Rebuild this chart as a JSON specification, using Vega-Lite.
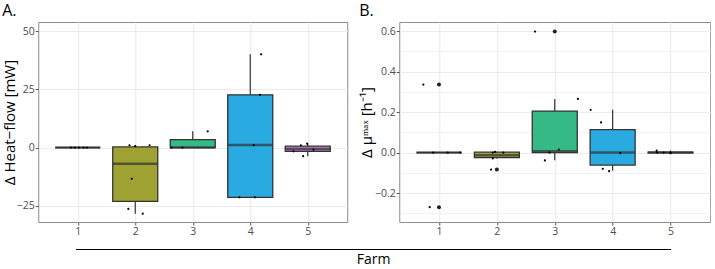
{
  "$schema": "https://vega.github.io/schema/vega-lite/v6.json",
  "padding": {"left": 1, "top": 2, "right": 0, "bottom": 0},
  "background": "white",
  "datasets": {
    "boxA": [
      {"farm": 1, "lower": 0, "q1": 0, "median": 0, "q3": 0, "upper": 0},
      {"farm": 2, "lower": -28.4, "q1": -23.1, "median": -6.9, "q3": 0.3, "upper": 1.0},
      {"farm": 3, "lower": 0, "q1": 0, "median": 0, "q3": 3.4, "upper": 7.0},
      {"farm": 4, "lower": -21.4, "q1": -21.4, "median": 1.1, "q3": 22.7, "upper": 40.1},
      {"farm": 5, "lower": -3.7, "q1": -1.6, "median": -0.6, "q3": 0.6, "upper": 1.7}
    ],
    "ptsA": [
      {"farm": 1, "xj": 0.88, "value": 0}, {"farm": 1, "xj": 0.95, "value": 0}, {"farm": 1, "xj": 1.02, "value": 0}, {"farm": 1, "xj": 1.10, "value": 0}, {"farm": 1, "xj": 1.16, "value": 0},
      {"farm": 2, "xj": 1.90, "value": 1.0}, {"farm": 2, "xj": 2.0, "value": 0.6}, {"farm": 2, "xj": 2.25, "value": 1.0}, {"farm": 2, "xj": 1.94, "value": -13.4}, {"farm": 2, "xj": 1.88, "value": -26.4}, {"farm": 2, "xj": 2.13, "value": -28.4},
      {"farm": 3, "xj": 2.63, "value": 0}, {"farm": 3, "xj": 2.82, "value": 0}, {"farm": 3, "xj": 3.26, "value": 7.0},
      {"farm": 4, "xj": 4.19, "value": 40.1}, {"farm": 4, "xj": 4.17, "value": 22.7}, {"farm": 4, "xj": 4.06, "value": 1.1}, {"farm": 4, "xj": 3.81, "value": -21.4}, {"farm": 4, "xj": 4.08, "value": -21.4},
      {"farm": 5, "xj": 4.88, "value": 0.9}, {"farm": 5, "xj": 4.99, "value": 1.7}, {"farm": 5, "xj": 4.75, "value": -1.6}, {"farm": 5, "xj": 5.10, "value": -0.9}, {"farm": 5, "xj": 4.92, "value": -3.7}
    ],
    "boxB": [
      {"farm": 1, "lower": 0, "q1": 0, "median": 0, "q3": 0, "upper": 0},
      {"farm": 2, "lower": -0.029, "q1": -0.025, "median": -0.013, "q3": 0.002, "upper": 0.003},
      {"farm": 3, "lower": -0.038, "q1": 0.0, "median": 0.006, "q3": 0.205, "upper": 0.265},
      {"farm": 4, "lower": -0.09, "q1": -0.062, "median": 0.0, "q3": 0.113, "upper": 0.211},
      {"farm": 5, "lower": -0.003, "q1": -0.001, "median": 0, "q3": 0.002, "upper": 0.01}
    ],
    "ptsB": [
      {"farm": 1, "xj": 0.73, "value": 0.336}, {"farm": 1, "xj": 0.84, "value": -0.27}, {"farm": 1, "xj": 0.90, "value": 0}, {"farm": 1, "xj": 1.15, "value": 0}, {"farm": 1, "xj": 1.37, "value": 0},
      {"farm": 2, "xj": 1.90, "value": -0.084}, {"farm": 2, "xj": 1.93, "value": 0.0}, {"farm": 2, "xj": 1.97, "value": 0.003}, {"farm": 2, "xj": 2.11, "value": 0.0}, {"farm": 2, "xj": 1.93, "value": -0.029},
      {"farm": 3, "xj": 2.66, "value": 0.598}, {"farm": 3, "xj": 3.40, "value": 0.265}, {"farm": 3, "xj": 3.07, "value": 0.015}, {"farm": 3, "xj": 2.91, "value": 0.0}, {"farm": 3, "xj": 2.83, "value": -0.039},
      {"farm": 4, "xj": 3.62, "value": 0.211}, {"farm": 4, "xj": 3.80, "value": 0.149}, {"farm": 4, "xj": 4.13, "value": -0.003}, {"farm": 4, "xj": 3.83, "value": -0.08}, {"farm": 4, "xj": 3.94, "value": -0.092},
      {"farm": 5, "xj": 4.76, "value": 0.01}, {"farm": 5, "xj": 4.77, "value": 0}, {"farm": 5, "xj": 4.88, "value": 0}, {"farm": 5, "xj": 5.0, "value": 0}, {"farm": 5, "xj": 5.0, "value": -0.003}
    ],
    "outB": [
      {"farm": 1, "value": 0.336}, {"farm": 1, "value": -0.27}, {"farm": 2, "value": -0.084}, {"farm": 3, "value": 0.598}
    ]
  },
  "config": {
    "font": "Open Sans",
    "view": {"stroke": "#8c8c8c", "strokeWidth": 1},
    "axis": {
      "labelFont": "Open Sans", "titleFont": "Open Sans",
      "labelColor": "#4D4D4D", "labelFontSize": 10.5,
      "titleFontSize": 15, "titleFontWeight": "normal", "titleColor": "#000000",
      "tickColor": "#555555", "tickSize": 3, "labelPadding": 1,
      "domain": false, "gridColor": "#EBEBEB"
    },
    "title": {"font": "Open Sans", "fontSize": 16, "fontWeight": "normal", "color": "#000000", "anchor": "start", "frame": "bounds", "offset": 3}
  },
  "spacing": 8,
  "center": true,
  "vconcat": [
    {
      "spacing": 10,
      "hconcat": [
        {
          "title": "A.",
          "width": 309,
          "height": 200,
          "layer": [
            {
              "data": {"name": "boxA"},
              "mark": {"type": "rule", "color": "#333333", "strokeWidth": 1.2},
              "encoding": {
                "x": {"field": "farm", "type": "quantitative", "scale": {"domain": [0.4, 5.6], "nice": false, "zero": false},
                      "axis": {"title": null, "values": [1, 2, 3, 4, 5], "format": "d", "grid": true, "gridWidth": 1.1}},
                "y": {"field": "lower", "type": "quantitative", "scale": {"domain": [-32, 54], "nice": false, "zero": false},
                      "axis": {"title": "Δ Heat−flow [mW]", "titleX": -21, "values": [-25, -12.5, 0, 12.5, 25, 37.5, 50],
                               "labelExpr": "datum.value % 25 == 0 ? datum.label : ''",
                               "tickOpacity": {"condition": {"test": "datum.value % 25 != 0", "value": 0}, "value": 1},
                               "gridWidth": {"condition": {"test": "datum.value % 25 != 0", "value": 0.6}, "value": 1.1}}},
                "y2": {"field": "upper"}
              }
            },
            {
              "data": {"name": "boxA"},
              "mark": {"type": "bar", "size": 45, "stroke": "#333333", "strokeWidth": 1.3},
              "encoding": {
                "x": {"field": "farm", "type": "quantitative"},
                "y": {"field": "q1", "type": "quantitative"},
                "y2": {"field": "q3"},
                "color": {"field": "farm", "type": "nominal", "legend": null,
                          "scale": {"domain": [1, 2, 3, 4, 5], "range": ["#F8766D", "#9EA232", "#35B986", "#29AAE1", "#BA7DC6"]}}
              }
            },
            {
              "data": {"name": "boxA"},
              "mark": {"type": "tick", "orient": "horizontal", "size": 45, "thickness": 2.5, "color": "#333333"},
              "encoding": {
                "x": {"field": "farm", "type": "quantitative"},
                "y": {"field": "median", "type": "quantitative"}
              }
            },
            {
              "data": {"name": "ptsA"},
              "mark": {"type": "circle", "size": 5, "color": "#000000", "opacity": 1},
              "encoding": {
                "x": {"field": "xj", "type": "quantitative"},
                "y": {"field": "value", "type": "quantitative"}
              }
            }
          ]
        },
        {
          "title": "B.",
          "width": 311,
          "height": 200,
          "resolve": {"axis": {"y": "independent"}},
          "layer": [
            {
              "data": {"name": "boxB"},
              "mark": {"type": "rule", "color": "#333333", "strokeWidth": 1.2},
              "encoding": {
                "x": {"field": "farm", "type": "quantitative", "scale": {"domain": [0.4, 5.6], "nice": false, "zero": false},
                      "axis": {"title": null, "values": [1, 2, 3, 4, 5], "format": "d", "grid": true, "gridWidth": 1.1}},
                "y": {"field": "lower", "type": "quantitative", "scale": {"domain": [-0.343, 0.645], "nice": false, "zero": false},
                      "axis": {"title": "Δ μᵐᵃˣ [h⁻¹]", "titleX": -25, "format": ".1f",
                               "values": [-0.2, 0, 0.2, 0.4, 0.6], "grid": true, "gridWidth": 1.1}},
                "y2": {"field": "upper"}
              }
            },
            {
              "data": {"name": "boxB"},
              "mark": {"type": "bar", "size": 45, "stroke": "#333333", "strokeWidth": 1.3},
              "encoding": {
                "x": {"field": "farm", "type": "quantitative"},
                "y": {"field": "q1", "type": "quantitative",
                      "axis": {"orient": "right", "title": null, "labels": false, "ticks": false, "domain": false,
                               "grid": true, "gridWidth": 0.6, "values": [-0.3, -0.1, 0.1, 0.3, 0.5]}},
                "y2": {"field": "q3"},
                "color": {"field": "farm", "type": "nominal", "legend": null,
                          "scale": {"domain": [1, 2, 3, 4, 5], "range": ["#F8766D", "#9EA232", "#35B986", "#29AAE1", "#BA7DC6"]}}
              }
            },
            {
              "data": {"name": "boxB"},
              "mark": {"type": "tick", "orient": "horizontal", "size": 45, "thickness": 2.5, "color": "#333333"},
              "encoding": {
                "x": {"field": "farm", "type": "quantitative"},
                "y": {"field": "median", "type": "quantitative", "axis": null}
              }
            },
            {
              "data": {"name": "ptsB"},
              "mark": {"type": "circle", "size": 5, "color": "#000000", "opacity": 1},
              "encoding": {
                "x": {"field": "xj", "type": "quantitative"},
                "y": {"field": "value", "type": "quantitative", "axis": null}
              }
            },
            {
              "data": {"name": "outB"},
              "mark": {"type": "circle", "size": 16, "color": "#222222", "opacity": 1},
              "encoding": {
                "x": {"field": "farm", "type": "quantitative"},
                "y": {"field": "value", "type": "quantitative", "axis": null}
              }
            }
          ]
        }
      ]
    },
    {
      "width": 595,
      "height": 1,
      "view": {"stroke": null},
      "data": {"name": "boxA"},
      "mark": {"type": "point", "opacity": 0},
      "encoding": {
        "x": {"field": "farm", "type": "quantitative",
              "axis": {"title": "Farm", "labels": false, "ticks": false, "grid": false, "domain": true,
                       "domainColor": "#000000", "domainWidth": 1.2, "titlePadding": 3, "titleFontSize": 14}},
        "y": {"field": "farm", "type": "quantitative",
              "axis": {"title": ".", "titleOpacity": 0, "labels": false, "ticks": false, "grid": false, "domain": false,
                       "minExtent": 0, "maxExtent": 0, "titlePadding": 11, "titleFontSize": 14}}
      }
    }
  ]
}
